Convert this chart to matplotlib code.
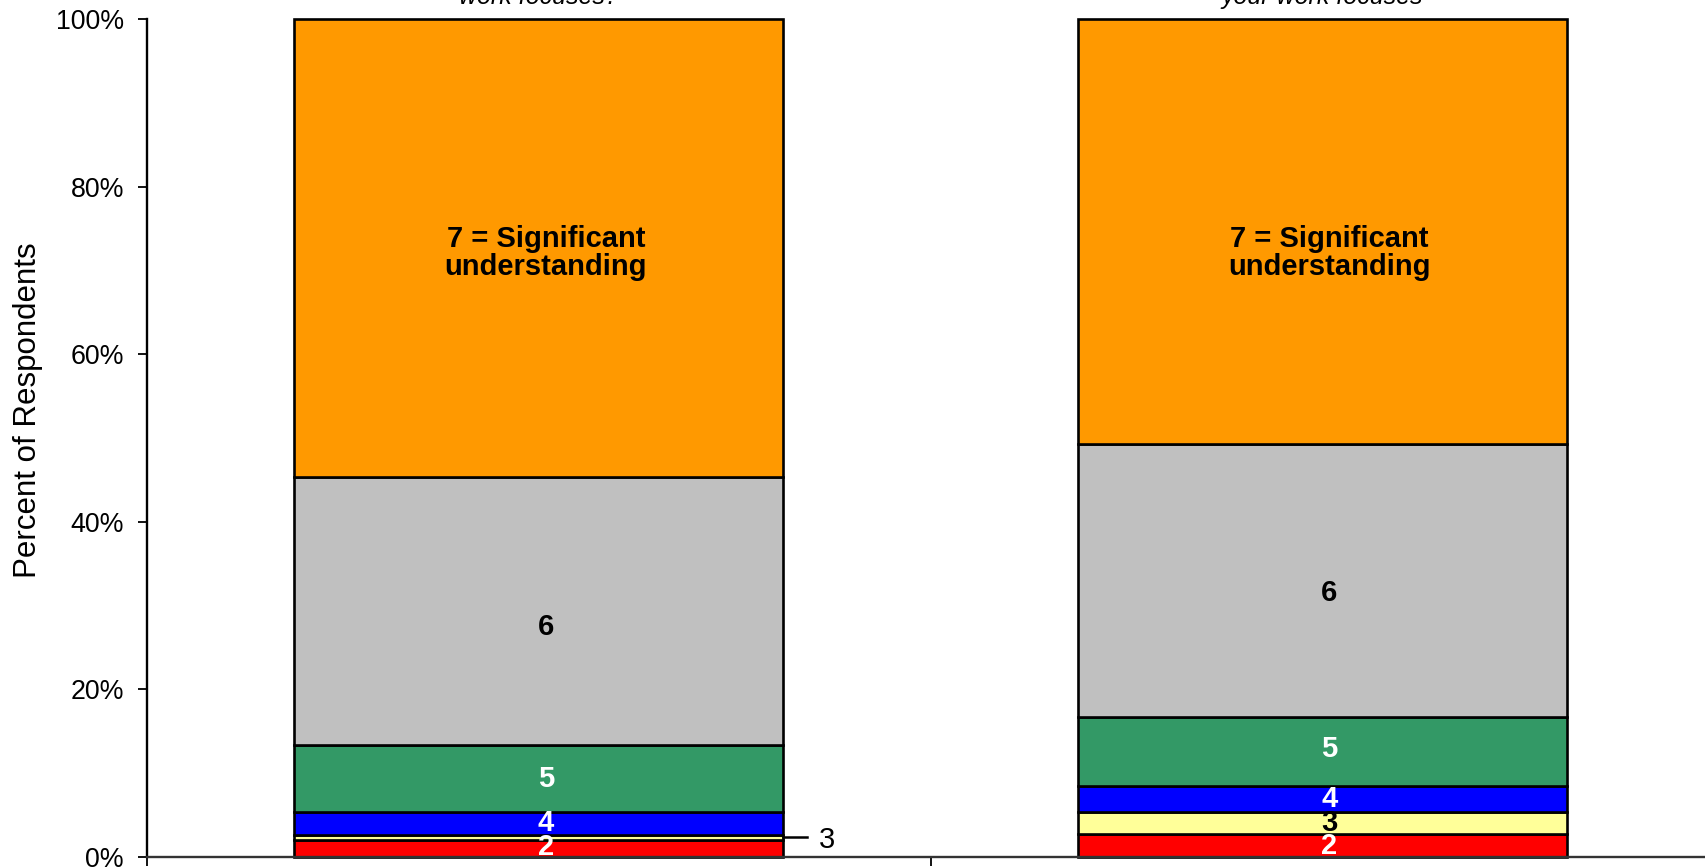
import matplotlib
matplotlib.use('Agg')
import matplotlib.pyplot as plt
import matplotlib.transforms as mtransforms

plt.rcParams['font.family'] = ['Liberation Sans', 'DejaVu Sans']

# data (percent of respondents, bottom to top)
levels = ['2', '3', '4', '5', '6', '7 = Significant\nunderstanding']
level_colors = ['#FF0000', '#FFFF99', '#0000FF', '#339966', '#C0C0C0', '#FF9900']
label_colors = ['white', 'black', 'white', 'white', 'black', 'black']
group_titles = ['work focuses?', 'your work focuses']
group1 = [2.0, 0.67, 2.67, 8.0, 32.0, 54.67]
group2 = [2.7, 2.65, 3.15, 8.15, 32.6, 50.75]
tick_values = [0, 20, 40, 60, 80, 100]
tick_labels = ['0%', '20%', '40%', '60%', '80%', '100%']

# nudges of the in-bar labels away from the segment middle (percent points)
label_shift1 = [0.2, 0, 0, 0, -1.9, -0.6]
label_shift2 = [0, 0, 0, 0.3, -1.4, -2.5]

W, H = 1705, 868
fig = plt.figure(figsize=(W / 100, H / 100), dpi=100)
left, right, bottom, top = 147, 1714, 857, 19
ax = fig.add_axes([left / W, 1 - bottom / H, (right - left) / W, (bottom - top) / H])

bar_w = 0.624
for gi, (vals, shifts) in enumerate([(group1, label_shift1), (group2, label_shift2)]):
    base = 0.0
    for li, v in enumerate(vals):
        ax.bar(gi, v, bottom=base, width=bar_w, color=level_colors[li],
               edgecolor='black', linewidth=1.9, clip_on=False, zorder=2)
        mid = base + v / 2
        if v < 1.5:
            # small slice: label outside with a leader line
            x0 = gi + bar_w / 2
            ax.plot([x0, x0 + 0.03], [mid, mid], color='black', lw=1.8,
                    clip_on=False, zorder=3)
            ax.text(x0 + 0.056, mid - 0.3, levels[li], ha='center', va='center',
                    fontsize=21, color='black')
        else:
            ax.text(gi + 0.009, mid + shifts[li], levels[li], ha='center', va='center',
                    fontsize=21, fontweight='bold', color=label_colors[li],
                    linespacing=1.0, zorder=4)
        base += v

# group titles along the top edge (mostly cut off by the figure edge)
trans = mtransforms.blended_transform_factory(ax.transData, fig.transFigure)
for gi, t in enumerate(group_titles):
    ax.text(gi, 1 - 4 / H, t, transform=trans, ha='center', va='baseline',
            fontsize=18, style='italic', clip_on=False)

ax.set_xlim(-0.5, 1.5)
ax.set_ylim(0, 100)
ax.set_yticks(tick_values)
ax.set_yticklabels(tick_labels)
ax.set_xticks([-0.5, 0.5, 1.5])
ax.set_xticklabels([])
ax.tick_params(axis='y', direction='out', length=6.5, width=1.3, pad=10, labelsize=19.3)
ax.tick_params(axis='x', direction='out', length=6.5, width=1.3)

ax.spines['top'].set_visible(False)
ax.spines['right'].set_visible(False)
ax.spines['left'].set_linewidth(1.7)
ax.spines['bottom'].set_linewidth(1.7)
ax.spines['bottom'].set_color('#333333')

ax.set_ylabel('Percent of Respondents', fontsize=22.5, va='center')
ax.yaxis.set_label_coords(-0.0759, 0.533)

fig.savefig('out.png', dpi=100)
